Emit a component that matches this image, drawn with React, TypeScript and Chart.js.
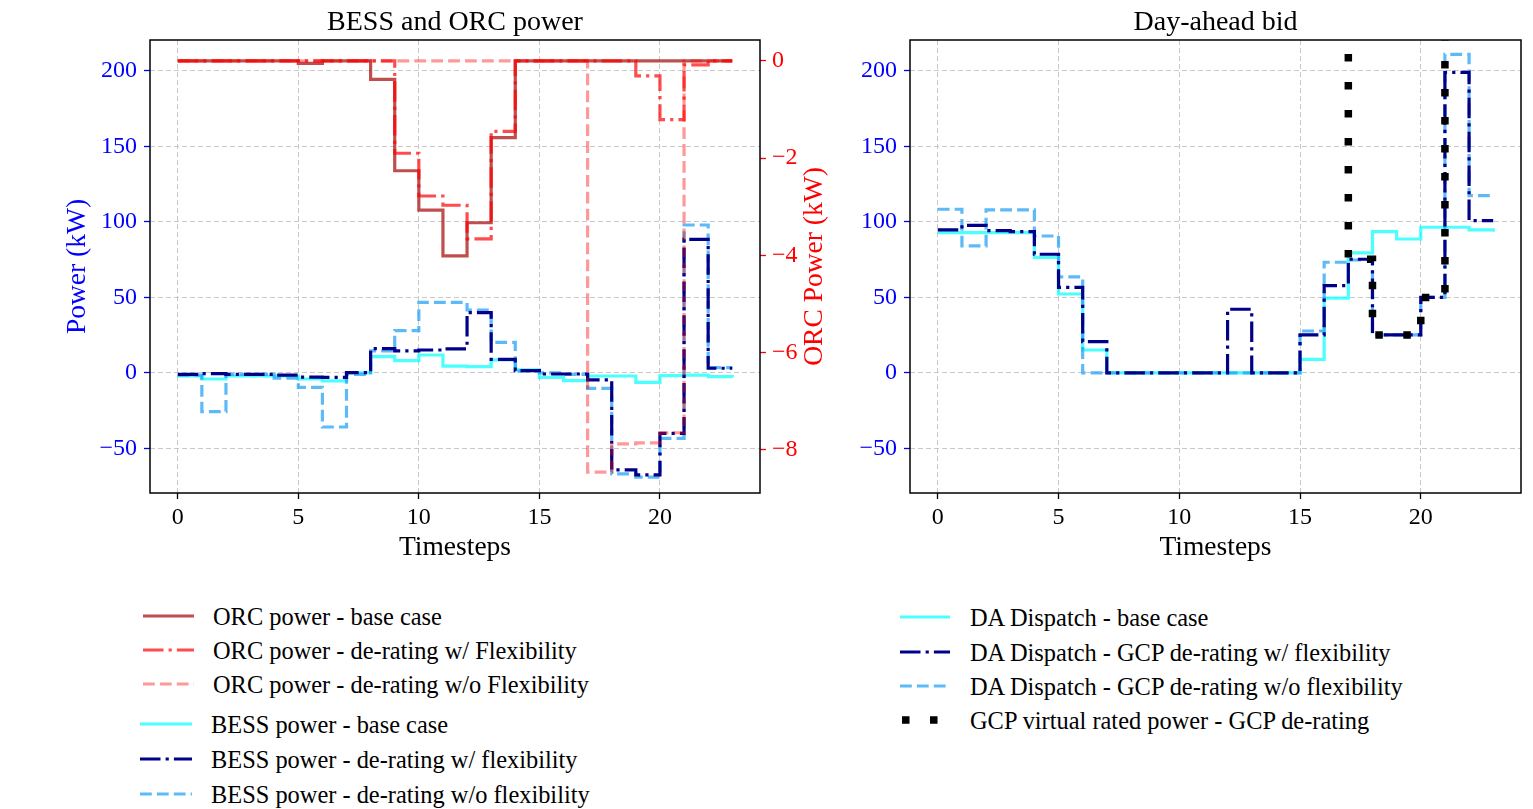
import React, { useEffect, useRef } from 'react';
import { Chart, registerables } from 'chart.js';

Chart.register(...registerables);

const FONT = "'Liberation Serif', 'Times New Roman', serif";
Chart.defaults.font.family = FONT;

// ---------- data ----------
const timesteps = [0, 1, 2, 3, 4, 5, 6, 7, 8, 9, 10, 11, 12, 13, 14, 15, 16, 17, 18, 19, 20, 21, 22, 23];
const xTicks = [0, 5, 10, 15, 20];
const powerTicks = [-50, 0, 50, 100, 150, 200];
const orcTicks = [-8, -6, -4, -2, 0];

// ORC power (kW, right axis of left chart)
const orcBase = [0, 0, 0, 0, 0, -0.05, 0, 0, -0.38, -2.26, -3.07, -4.01, -3.33, -1.58, 0, 0, 0, 0, 0, 0, 0, 0, 0, 0];
const orcFlex = [0, 0, 0, 0, 0, 0, 0, 0, 0, -1.9, -2.78, -2.97, -3.66, -1.45, 0, 0, 0, 0, 0, -0.31, -1.21, -0.08, 0, 0];
const orcNoFlex = [0, 0, 0, 0, 0, 0, 0, 0, 0, 0, 0, 0, 0, 0, 0, 0, 0, -8.46, -7.88, -7.86, -7.65, 0, 0, 0];

// BESS power (kW, left axis)
const bessBase = [-2, -4, -2, -2, -2, -4, -5.3, 0, 10.8, 8.2, 11.9, 4.5, 4.2, 8.6, 2, -2.9, -5.1, -2, -2, -6.2, -1.8, -1.5, -2.4, -3];
const bessFlex = [-1, -0.5, -1, -1, -1.5, -2.7, -2.9, 0.2, 16.1, 14.6, 15.2, 15.9, 40, 9, 1.5, -0.7, -0.7, -4.6, -64.2, -67.5, -40, 88.5, 3.1, 3.1];
const bessNoFlex = [-1.5, -25.6, -1, -1, -3.5, -9.5, -35.8, -1, 14.6, 28, 46.8, 46.8, 41.7, 20.3, 1.3, 0, -1, -10.2, -66.9, -69, -43.3, 98, 3.5, 3.5];

// Day-ahead bid (kW)
const daBase = [92.9, 92.9, 92.9, 92.9, 76.6, 52.3, 15.2, 0, 0, 0, 0, 0, 0, 0, 0, 9, 49.5, 79.5, 93.6, 88.7, 96.5, 96.5, 94.7, 93.5];
const daFlex = [94.7, 97.8, 94.3, 93.6, 78.6, 56.7, 20.7, 0, 0, 0, 0, 0, 42.2, 0, 0, 25.2, 57.8, 75.3, 25.2, 25.2, 50, 199, 100.9, 100.9];
const daNoFlex = [108.4, 84.1, 108, 108, 90.7, 63.6, 0, 0, 0, 0, 0, 0, 0, 0, 0, 27.8, 73.3, 74.8, 25.2, 25.2, 50, 211, 117.4, 117.4];
const gcpRated = [400, 400, 400, 400, 400, 400, 400, 400, 400, 400, 400, 400, 400, 400, 400, 400, 400, 75.3, 25.2, 25.2, 50, 400, 400, 400];

// ---------- styles ----------
const C_ORC_BASE = 'rgba(178,34,34,0.8)';
const C_ORC_FLEX = 'rgba(255,0,0,0.7)';
const C_ORC_NOFLEX = 'rgba(255,0,0,0.4)';
const C_BESS_BASE = 'rgba(0,255,255,0.7)';
const C_BESS_FLEX = '#000088';
const C_BESS_NOFLEX = 'rgba(30,160,245,0.72)';
const LW = 3.2;
const DASHED = [11.8, 5.1];
const DASHDOT = [20.5, 5.1, 3.2, 5.1];
const DOTTED = [7.5, 20.5];
const GRID = '#c8c8c8';

const fmt = (v: any) => {
  const n = Number(v);
  return n < 0 ? '\u2212' + Math.abs(n) : String(n);
};

function series(label: string, data: number[], color: string, dash: number[], order: number, yAxisID = 'y', width = LW) {
  return {
    label,
    data: data.map((y, i) => ({ x: timesteps[i], y })),
    borderColor: color,
    backgroundColor: color,
    borderWidth: width,
    borderDash: dash,
    borderCapStyle: 'butt',
    borderJoinStyle: 'miter',
    pointRadius: 0,
    pointHoverRadius: 0,
    stepped: true,
    fill: false,
    tension: 0,
    order,
    yAxisID,
  };
}

function xScale(height: number, titleBottom: number) {
  return {
    type: 'linear',
    min: -1.15,
    max: 24.15,
    afterBuildTicks: (s: any) => { s.ticks = xTicks.map((v) => ({ value: v })); },
    afterFit: (s: any) => { s.height = height; },
    ticks: { color: 'black', font: { size: 24 }, padding: 4, maxRotation: 0, minRotation: 0, autoSkip: false, callback: fmt },
    grid: { color: GRID, lineWidth: 1, tickLength: 6, tickColor: 'black', tickWidth: 1.3 },
    border: { display: false, dash: [5, 3] },
    title: { display: true, text: 'Timesteps', color: 'black', font: { size: 27.5 }, padding: { top: 0, bottom: titleBottom } },
  };
}

function yScale(width: number, title: string | null, titlePad: number) {
  return {
    type: 'linear',
    position: 'left',
    min: -79.5,
    max: 220.5,
    afterBuildTicks: (s: any) => { s.ticks = powerTicks.map((v) => ({ value: v })); },
    afterFit: (s: any) => { s.width = width; },
    ticks: { color: 'blue', font: { size: 24 }, padding: 7, callback: fmt },
    grid: { color: GRID, lineWidth: 1, tickLength: 6, tickColor: 'blue', tickWidth: 1.3 },
    border: { display: false, dash: [5, 3] },
    title: title
      ? { display: true, text: title, color: 'blue', font: { size: 27.5 }, padding: { top: titlePad, bottom: 0 } }
      : { display: false },
  };
}

const framePlugin = {
  id: 'frame',
  afterDatasetsDraw(chart: any) {
    const { ctx, chartArea } = chart;
    ctx.save();
    ctx.strokeStyle = 'black';
    ctx.lineWidth = 1.5;
    ctx.setLineDash([]);
    ctx.strokeRect(chartArea.left, chartArea.top, chartArea.right - chartArea.left, chartArea.bottom - chartArea.top);
    ctx.restore();
  },
};

const rightTitlePlugin = {
  id: 'rightTitle',
  afterDraw(chart: any) {
    const { ctx, chartArea } = chart;
    ctx.save();
    ctx.translate(815, (chartArea.top + chartArea.bottom) / 2);
    ctx.rotate(-Math.PI / 2);
    ctx.font = `27.5px ${FONT}`;
    ctx.fillStyle = 'red';
    ctx.textAlign = 'center';
    ctx.textBaseline = 'middle';
    ctx.fillText('ORC Power (kW)', 0, 0);
    ctx.restore();
  },
};

function titleOpts(text: string) {
  return {
    display: true,
    text,
    color: 'black',
    font: { size: 28, weight: 'normal' },
    padding: { top: 6.2, bottom: 0.2 },
    fullSize: false,
  };
}

function leftConfig(): any {
  return {
    type: 'line',
    data: {
      datasets: [
        series('ORC power - base case', orcBase, C_ORC_BASE, [], 2, 'y1'),
        series('ORC power - de-rating w/ Flexibility', orcFlex, C_ORC_FLEX, DASHDOT, 1, 'y1'),
        series('ORC power - de-rating w/o Flexibility', orcNoFlex, C_ORC_NOFLEX, DASHED, 0, 'y1'),
        series('BESS power - base case', bessBase, C_BESS_BASE, [], 5),
        series('BESS power - de-rating w/ flexibility', bessFlex, C_BESS_FLEX, DASHDOT, 3),
        series('BESS power - de-rating w/o flexibility', bessNoFlex, C_BESS_NOFLEX, DASHED, 4),
      ],
    },
    options: {
      animation: false,
      responsive: false,
      devicePixelRatio: 1,
      events: [],
      layout: { padding: { left: 0, right: 0, top: 0, bottom: 0 } },
      plugins: { legend: { display: false }, tooltip: { enabled: false }, title: titleOpts('BESS and ORC power') },
      scales: {
        x: xScale(87, 16),
        y: yScale(150, 'Power (kW)', 61.5),
        y1: {
          type: 'linear',
          position: 'right',
          min: -8.89,
          max: 0.43,
          afterBuildTicks: (s: any) => { s.ticks = orcTicks.map((v) => ({ value: v })); },
          afterFit: (s: any) => { s.width = 100; },
          ticks: { color: 'red', font: { size: 24 }, padding: 6, callback: fmt },
          grid: { drawOnChartArea: false, tickLength: 6, tickColor: 'red', tickWidth: 1.3 },
          border: { display: false },
          title: { display: false },
        },
      },
    },
    plugins: [framePlugin, rightTitlePlugin],
  };
}

function rightConfig(): any {
  const gcp: any = series('GCP virtual rated power - GCP de-rating', gcpRated, 'black', DOTTED, 0, 'y', 7.5);
  gcp.borderDashOffset = 4.5;
  return {
    type: 'line',
    data: {
      datasets: [
        series('DA Dispatch - base case', daBase, C_BESS_BASE, [], 3),
        series('DA Dispatch - GCP de-rating w/ flexibility', daFlex, C_BESS_FLEX, DASHDOT, 1),
        series('DA Dispatch - GCP de-rating w/o flexibility', daNoFlex, C_BESS_NOFLEX, DASHED, 2),
        gcp,
      ],
    },
    options: {
      animation: false,
      responsive: false,
      devicePixelRatio: 1,
      events: [],
      layout: { padding: { left: 0, right: 12, top: 0, bottom: 0 } },
      plugins: { legend: { display: false }, tooltip: { enabled: false }, title: titleOpts('Day-ahead bid') },
      scales: {
        x: xScale(87, 16),
        y: yScale(130, null, 0),
      },
    },
    plugins: [framePlugin],
  };
}

function ChartCanvas({ build, left, top, width, height }: { build: () => any; left: number; top: number; width: number; height: number }) {
  const ref = useRef<HTMLCanvasElement | null>(null);
  useEffect(() => {
    if (!ref.current) return;
    const chart = new Chart(ref.current, build());
    return () => chart.destroy();
  }, []);
  return (
    <canvas
      ref={ref}
      width={width}
      height={height}
      style={{ position: 'absolute', left, top, width, height, display: 'block' }}
    />
  );
}

type LegendRow = { label: string; color: string; dash: number[]; width: number; y: number; x1: number; x2: number; tx: number };

const leftLegend: LegendRow[] = [
  { label: 'ORC power - base case', color: C_ORC_BASE, dash: [], width: LW, y: 616, x1: 143, x2: 194, tx: 213 },
  { label: 'ORC power - de-rating w/ Flexibility', color: C_ORC_FLEX, dash: DASHDOT, width: LW, y: 650, x1: 143, x2: 194, tx: 213 },
  { label: 'ORC power - de-rating w/o Flexibility', color: C_ORC_NOFLEX, dash: DASHED, width: LW, y: 684, x1: 143, x2: 194, tx: 213 },
  { label: 'BESS power - base case', color: C_BESS_BASE, dash: [], width: LW, y: 724, x1: 140, x2: 192, tx: 211 },
  { label: 'BESS power - de-rating w/ flexibility', color: C_BESS_FLEX, dash: DASHDOT, width: LW, y: 759, x1: 140, x2: 192, tx: 211 },
  { label: 'BESS power - de-rating w/o flexibility', color: C_BESS_NOFLEX, dash: DASHED, width: LW, y: 794, x1: 140, x2: 192, tx: 211 },
];

const rightLegend: LegendRow[] = [
  { label: 'DA Dispatch - base case', color: C_BESS_BASE, dash: [], width: LW, y: 617, x1: 900, x2: 950, tx: 970 },
  { label: 'DA Dispatch - GCP de-rating w/ flexibility', color: C_BESS_FLEX, dash: DASHDOT, width: LW, y: 652, x1: 900, x2: 950, tx: 970 },
  { label: 'DA Dispatch - GCP de-rating w/o flexibility', color: C_BESS_NOFLEX, dash: DASHED, width: LW, y: 686, x1: 900, x2: 950, tx: 970 },
  { label: 'GCP virtual rated power - GCP de-rating', color: 'black', dash: DOTTED, width: 7.5, y: 720, x1: 901.5, x2: 950, tx: 970 },
];

function Legend({ rows }: { rows: LegendRow[] }) {
  return (
    <>
      {rows.map((r) => (
        <React.Fragment key={r.label}>
          <svg
            style={{ position: 'absolute', left: r.x1, top: r.y - 6, overflow: 'visible' }}
            width={r.x2 - r.x1}
            height={12}
          >
            <line
              x1={0}
              y1={6}
              x2={r.x2 - r.x1}
              y2={6}
              stroke={r.color}
              strokeWidth={r.width}
              strokeDasharray={r.dash.length ? r.dash.join(' ') : undefined}
              strokeLinecap="butt"
            />
          </svg>
          <div
            style={{
              position: 'absolute',
              left: r.tx,
              top: r.y - 13,
              height: 28,
              lineHeight: '28px',
              fontSize: 24.4,
              fontFamily: FONT,
              color: 'black',
              whiteSpace: 'nowrap',
            }}
          >
            {r.label}
          </div>
        </React.Fragment>
      ))}
    </>
  );
}

export default function App() {
  return (
    <div style={{ position: 'absolute', left: 0, top: 0, width: 1533, height: 809, background: 'white', overflow: 'hidden' }}>
      <ChartCanvas build={leftConfig} left={0} top={0} width={860} height={580} />
      <ChartCanvas build={rightConfig} left={780} top={0} width={753} height={580} />
      <Legend rows={leftLegend} />
      <Legend rows={rightLegend} />
    </div>
  );
}
